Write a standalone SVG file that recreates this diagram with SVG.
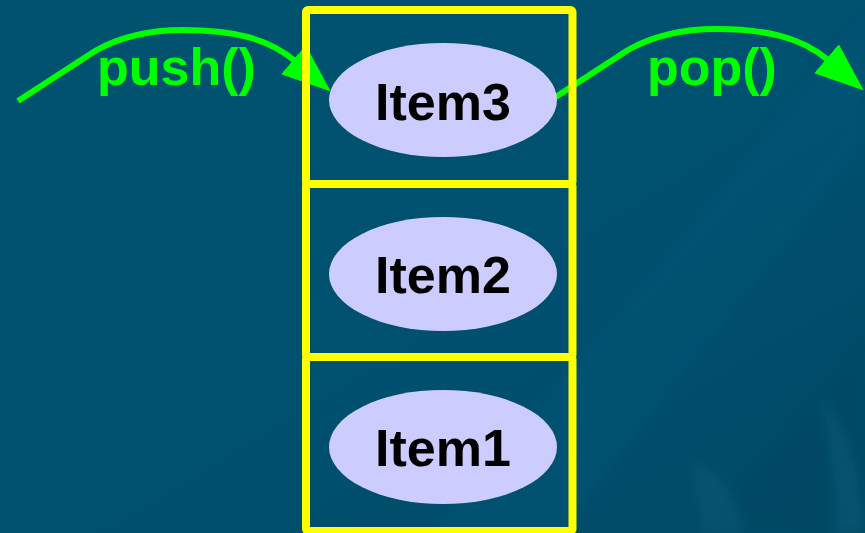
<svg xmlns="http://www.w3.org/2000/svg" width="865" height="533" viewBox="0 0 865 533">
  <defs>
    <linearGradient id="bg" x1="0" y1="0" x2="1" y2="1">
      <stop offset="0" stop-color="#00536f"/>
      <stop offset="0.55" stop-color="#005070"/>
      <stop offset="1" stop-color="#004a66"/>
    </linearGradient>
    <linearGradient id="band" x1="0.35" y1="0.75" x2="0.65" y2="0.25">
      <stop offset="0" stop-color="#005c7c" stop-opacity="0"/>
      <stop offset="0.5" stop-color="#005c7c" stop-opacity="0.8"/>
      <stop offset="0.52" stop-color="#004a66" stop-opacity="0.6"/>
      <stop offset="1" stop-color="#004a66" stop-opacity="0"/>
    </linearGradient>
    <filter id="soft" x="-20%" y="-20%" width="140%" height="140%">
      <feGaussianBlur stdDeviation="6"/>
    </filter>
    <marker id="head" viewBox="0 -20 50 40" markerWidth="50" markerHeight="40"
            refX="2" refY="0" markerUnits="userSpaceOnUse" orient="auto">
      <path d="M0,-19 L49,0 L0,19 Z" fill="#00ff00"/>
    </marker>
  </defs>
  <style>
    .flow { fill: none; stroke: #00ff00; stroke-width: 6; marker-end: url(#head); }
    .op { font-family: "Liberation Sans", Arial, sans-serif; font-weight: bold; font-size: 52px; fill: #00ff00; }
    .cell { fill: none; stroke: #ffff00; stroke-width: 8; }
    .item { fill: #ccccff; }
    .label { font-family: "Liberation Sans", Arial, sans-serif; font-weight: bold; font-size: 52px; fill: #000000; text-anchor: middle; }
  </style>

  <!-- backdrop -->
  <rect width="865" height="533" fill="url(#bg)"/>
  <path d="M560,533 L865,140 L865,20 L430,533 Z" fill="#005a7a" opacity="0.35" filter="url(#soft)"/>
  <path d="M700,533 L865,330 L865,533 Z" fill="#004764" opacity="0.5" filter="url(#soft)"/>
  <path d="M690,460 C720,470 740,500 745,533 L700,533 C700,510 698,485 690,460 Z" fill="#0a5f7a" opacity="0.45" filter="url(#soft)"/>
  <path d="M818,395 C845,420 860,470 865,533 L835,533 C835,480 830,430 818,395 Z" fill="#0a5f7a" opacity="0.5" filter="url(#soft)"/>

  <!-- push / pop arrows -->
  <g id="connectors">
    <path class="flow" d="M18,101 L95,51 C125,34 155,30 183,30 C232,30 268,38 295,61"/>
    <path class="flow" d="M551,100 L628,50 C658,33 688,29 716,29 C765,29 801,37 828,60"/>
    <text class="op" x="97" y="85">push()</text>
    <text class="op" x="647" y="85">pop()</text>
  </g>

  <!-- stack cells, top to bottom -->
  <g id="item3">
    <rect class="cell" x="306" y="10" width="266.5" height="174" rx="2"/>
    <ellipse class="item" cx="443" cy="100" rx="114" ry="57"/>
    <text class="label" x="443" y="120">Item3</text>
  </g>
  <g id="item2">
    <rect class="cell" x="306" y="184" width="266.5" height="173" rx="2"/>
    <ellipse class="item" cx="443" cy="274" rx="114" ry="57"/>
    <text class="label" x="443" y="293">Item2</text>
  </g>
  <g id="item1">
    <rect class="cell" x="306" y="357" width="266.5" height="174" rx="2"/>
    <ellipse class="item" cx="443" cy="447" rx="114" ry="57"/>
    <text class="label" x="443" y="466">Item1</text>
  </g>
</svg>
